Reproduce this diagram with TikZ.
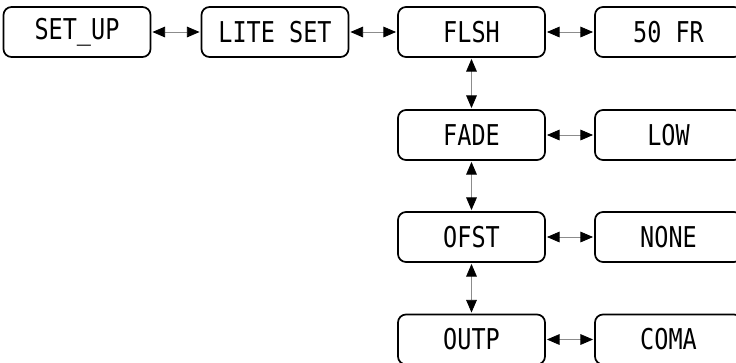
\documentclass[tikz,border=0pt]{standalone}
\usepackage{fontspec}
\usetikzlibrary{arrows.meta}
\newfontfamily\lcdfont[FakeStretch=0.82]{DejaVu Sans Mono}

\tikzset{every picture/.style={line width=0.75pt}}
\tikzset{
	menubox/.style={draw=black, line width=1.3pt, rounded corners=6pt, minimum width=110.25pt, minimum height=37.5pt, inner sep=0pt, font=\lcdfont\fontsize{21.5}{24}\selectfont},
	link/.style={draw=black!45, line width=0.6pt, {Triangle[length=9.5pt,width=8pt,fill=black,color=black]}-{Triangle[length=9.5pt,width=8pt,fill=black,color=black]}, shorten <=0.8pt, shorten >=0.8pt}
}

\begin{document}
\begin{tikzpicture}[x=0.75pt,y=0.75pt,yscale=-1,xscale=1]
	\useasboundingbox (0,0) rectangle (736,362);
	
	% Top row
	\node [menubox] (setup) at (77,32) {SET\_UP};
	\node [menubox] (lite) at (275,32) {LITE SET};
	\node [menubox] (flsh) at (471.5,32) {FLSH};
	\node [menubox] (fr) at (668.5,32) {50 FR};
	% Column of settings
	\node [menubox] (fade) at (471.5,135) {FADE};
	\node [menubox] (low) at (668.5,135) {LOW};
	\node [menubox] (ofst) at (471.5,237) {OFST};
	\node [menubox] (none) at (668.5,237) {NONE};
	\node [menubox] (outp) at (471.5,339.5) {OUTP};
	\node [menubox] (coma) at (668.5,339.5) {COMA};
	
	% Horizontal links
	\draw [link] (setup) -- (lite);
	\draw [link] (lite) -- (flsh);
	\draw [link] (flsh) -- (fr);
	\draw [link] (fade) -- (low);
	\draw [link] (ofst) -- (none);
	\draw [link] (outp) -- (coma);
	% Vertical links
	\draw [link] (flsh) -- (fade);
	\draw [link] (fade) -- (ofst);
	\draw [link] (ofst) -- (outp);
	
\end{tikzpicture}
\end{document}
